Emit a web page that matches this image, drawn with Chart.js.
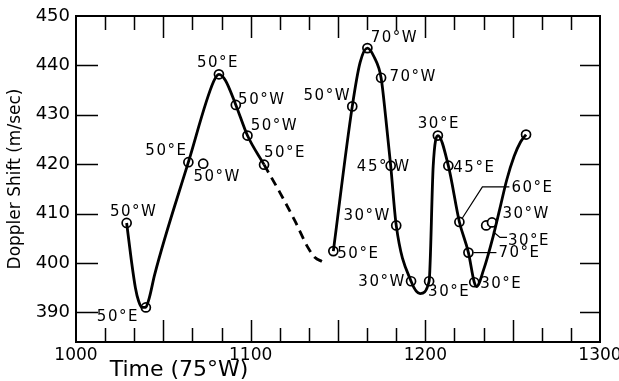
<!DOCTYPE html>
<html><head><meta charset="utf-8">
<script src="https://cdn.jsdelivr.net/npm/chart.js@4"></script>
<style>html,body{margin:0;padding:0;background:#fff}#wrap{width:619px;height:381px}</style>
</head><body><div id="wrap"><canvas id="c" width="619" height="381"></canvas></div>
<script>
// Time is kept as minutes after 1000 (75°W local time)
const xTickValues = [0, 60, 120, 180];
const xTickLabels = ['1000', '1100', '1200', '1300'];
const yTickValues = [390, 400, 410, 420, 430, 440, 450];
const yTickLabels = ['390', '400', '410', '420', '430', '440', '450'];

// solid curve, first part
const curveATime  = [17.4, 19.0, 20.4, 21.5, 22.7, 23.9, 25.2, 27.0, 38.6, 47.3, 49.1, 51.3, 54.9, 58.9, 64.6];
const curveAShift = [408.1, 400.6, 395.0, 392.3, 391.0, 391.0, 393.0, 397.6, 420.4, 436.8, 438.2, 437.0, 432.0, 425.8, 419.9];
// dashed part
const curveBTime  = [64.6, 70.1, 75.3, 79.7, 82.1, 84.5];
const curveBShift = [419.9, 414.2, 408.4, 403.1, 401.1, 400.3];
// solid curve, second part
const curveCTime  = [88.4, 94.9, 97.6, 100.1, 102.5, 104.8, 106.4, 108.1, 110.0, 115.1, 118.2, 121.3, 122.7, 124.3, 127.9, 131.7, 134.8, 136.8, 137.6, 140.0, 143.3, 145.6, 148.0, 150.5, 152.7, 154.6];
const curveCShift = [402.4, 431.7, 440.6, 443.5, 441.6, 437.5, 429.4, 419.7, 407.6, 396.3, 393.8, 396.3, 419.6, 425.8, 419.7, 408.3, 402.1, 396.1, 395.2, 398.6, 405.4, 411.0, 416.9, 421.6, 424.5, 426.0];

// observed points (open circles) and their satellite labels
const obsTime  = [17.4, 24.0, 38.6, 43.7, 49.1, 54.9, 58.9, 64.6, 88.4, 94.9, 100.1, 104.8, 108.1, 110.0, 115.1, 121.3, 124.3, 127.9, 131.7, 134.8, 136.8, 140.9, 142.9, 154.6];
const obsShift = [408.1, 391.0, 420.4, 420.1, 438.2, 432.0, 425.8, 419.9, 402.4, 431.7, 443.5, 437.5, 419.7, 407.6, 396.3, 396.3, 425.8, 419.7, 408.3, 402.1, 396.1, 407.6, 408.2, 426.0];
const obsLabel = ['50°W', '50°E', '50°E', '50°W', '50°E', '50°W', '50°W', '50°E', '50°E', '50°W', '70°W', '70°W', '45° W', '30°W', '30°W', '30°E', '30°E', '45°E', '60°E', '70°E', '30°E', '30°W', '30°E', ''];

// label placement (pixel offsets from each point)
const labelLayout = [
  {dx: 7, dy: -11}, {dx: -28, dy: 10}, {dx: -22, dy: -11}, {dx: 14, dy: 13},
  {dx: -1, dy: -11}, {dx: 26, dy: -5}, {dx: 27, dy: -9}, {dx: 21, dy: -12},
  {dx: 25, dy: 3}, {dx: -25, dy: -10}, {dx: 27, dy: -10}, {dx: 32, dy: -1},
  {dx: -7, dy: 1}, {dx: -29, dy: -9}, {dx: -29, dy: 1}, {dx: 20, dy: 11},
  {dx: 1, dy: -11}, {dx: 26, dy: 2},
  {dx: 52, dy: -34, left: true, leader: [[3, -4], [23, -35], [50, -35]]},
  {dx: 30, dy: 1, left: true, leader: [[5, 0], [28, 0]]},
  {dx: 27, dy: 2}, {dx: 40, dy: -11},
  {dx: 16, dy: 19, left: true, leader: [[1, 9], [8, 15], [15, 15]]},
  {dx: 0, dy: 0}
];

const FONT = 'DejaVu Sans';
const pts = (xs, ys) => xs.map((x, i) => ({x: x, y: ys[i]}));

const decor = {
  id: 'decor',
  beforeDatasetsDraw(chart) {
    const {ctx, chartArea: a, scales: {x, y}} = chart;
    ctx.save();
    ctx.strokeStyle = '#000';
    ctx.fillStyle = '#000';
    // frame
    ctx.lineWidth = 2;
    ctx.strokeRect(a.left, a.top, a.right - a.left, a.bottom - a.top);
    // tick marks, pointing inward
    ctx.lineWidth = 1.5;
    ctx.beginPath();
    for (let m = 10; m < 180; m += 10) {
      const px = Math.round(x.getPixelForValue(m)) + 0.5;
      const len = (m % 30 === 0) ? 22 : 14;
      ctx.moveTo(px, a.top); ctx.lineTo(px, a.top + len);
      ctx.moveTo(px, a.bottom); ctx.lineTo(px, a.bottom - len);
    }
    for (let v = 390; v < 450; v += 10) {
      const py = Math.round(y.getPixelForValue(v)) + 0.5;
      ctx.moveTo(a.left, py); ctx.lineTo(a.left + 22, py);
      ctx.moveTo(a.right, py); ctx.lineTo(a.right - 20, py);
    }
    ctx.stroke();
    // point labels and leader lines
    ctx.font = '15px "' + FONT + '"';
    ctx.letterSpacing = '1.5px';
    ctx.textBaseline = 'middle';
    ctx.lineWidth = 1.2;
    obsLabel.forEach((t, i) => {
      if (!t) return;
      const L = labelLayout[i];
      const px = x.getPixelForValue(obsTime[i]);
      const py = y.getPixelForValue(obsShift[i]);
      if (L.leader) {
        ctx.beginPath();
        L.leader.forEach((p, k) => k ? ctx.lineTo(px + p[0], py + p[1]) : ctx.moveTo(px + p[0], py + p[1]));
        ctx.stroke();
      }
      ctx.textAlign = L.left ? 'left' : 'center';
      ctx.fillText(t, px + L.dx, py + L.dy);
    });
    ctx.letterSpacing = '0px';
    // x axis title
    ctx.font = '22px "' + FONT + '"';
    ctx.textAlign = 'center';
    ctx.fillText('Time (75°W)', 179, 370);
    ctx.restore();
  }
};

new Chart(document.getElementById('c'), {
  type: 'scatter',
  data: {
    datasets: [
      {data: pts(curveATime, curveAShift), showLine: true, borderColor: '#000', borderWidth: 2.8, pointRadius: 0, cubicInterpolationMode: 'monotone'},
      {data: pts(curveBTime, curveBShift), showLine: true, borderColor: '#000', borderWidth: 2.8, borderDash: [9, 6], pointRadius: 0, cubicInterpolationMode: 'monotone'},
      {data: pts(curveCTime, curveCShift), showLine: true, borderColor: '#000', borderWidth: 2.8, pointRadius: 0, cubicInterpolationMode: 'monotone'},
      {data: pts(obsTime, obsShift), showLine: false, pointRadius: 4.5, pointBackgroundColor: '#fff', pointBorderColor: '#000', pointBorderWidth: 1.7}
    ]
  },
  options: {
    responsive: false,
    animation: false,
    devicePixelRatio: 1,
    layout: {padding: {top: 16, right: 19, left: 0, bottom: 0}},
    plugins: {legend: {display: false}, tooltip: {enabled: false}},
    scales: {
      x: {
        type: 'linear', min: 0, max: 180,
        afterBuildTicks: s => { s.ticks = xTickValues.map(v => ({value: v})); },
        afterFit: s => { s.height = 39; s.paddingLeft = 0; s.paddingRight = 0; },
        grid: {display: false, drawTicks: false},
        border: {display: false},
        ticks: {color: '#000', font: {family: FONT, size: 17}, padding: 3, maxRotation: 0,
          callback: v => xTickLabels[xTickValues.indexOf(v)]}
      },
      y: {
        type: 'linear', min: 384, max: 450,
        afterBuildTicks: s => { s.ticks = yTickValues.map(v => ({value: v})); },
        afterFit: s => { s.width = 76; s.paddingTop = 0; s.paddingBottom = 0; },
        grid: {display: false, drawTicks: false},
        border: {display: false},
        ticks: {color: '#000', font: {family: FONT, size: 18}, padding: 6,
          callback: v => yTickLabels[yTickValues.indexOf(v)]},
        title: {display: true, text: 'Doppler Shift (m/sec)', color: '#000',
          font: {family: FONT, size: 17}, padding: {top: 5, bottom: 0}}
      }
    }
  },
  plugins: [decor]
});
</script>
</body></html>
